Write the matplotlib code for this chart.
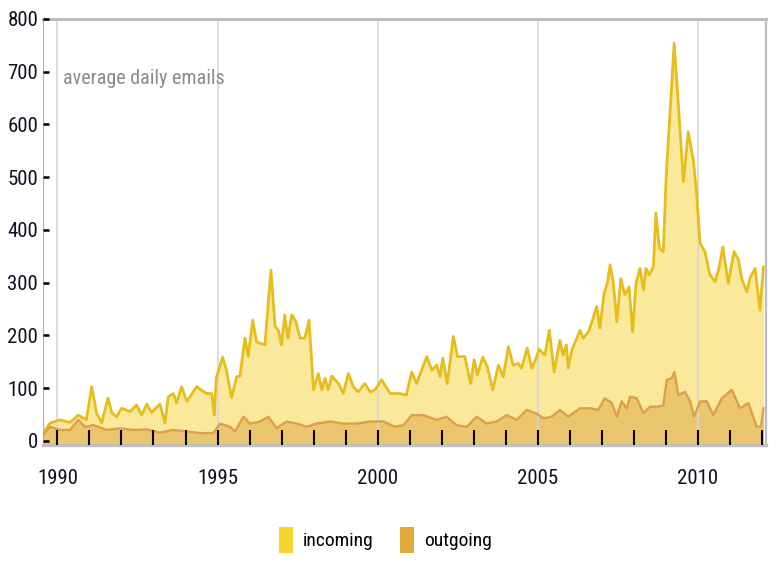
import matplotlib
matplotlib.use("Agg")
import matplotlib.pyplot as plt
import matplotlib.font_manager as fm
from matplotlib.patches import Patch

# -----------------------
# данные
# -----------------------
in_years = [1989.51, 1989.77, 1990.08, 1990.39, 1990.65, 1990.90, 1991.07, 1991.22, 1991.38, 1991.58,
            1991.70, 1991.85, 1992.00, 1992.27, 1992.47, 1992.63, 1992.79, 1992.94, 1993.20, 1993.36,
            1993.46, 1993.62, 1993.72, 1993.88, 1994.04, 1994.35, 1994.66, 1994.82, 1994.90, 1994.96,
            1995.16, 1995.28, 1995.44, 1995.60, 1995.70, 1995.86, 1995.96, 1996.10, 1996.22, 1996.48,
            1996.67, 1996.80, 1996.90, 1997.00, 1997.10, 1997.20, 1997.32, 1997.45, 1997.58, 1997.73,
            1997.86, 1998.00, 1998.15, 1998.26, 1998.36, 1998.46, 1998.57, 1998.78, 1998.93, 1999.09,
            1999.24, 1999.40, 1999.60, 1999.77, 1999.92, 2000.13, 2000.40, 2000.70, 2000.90, 2001.07,
            2001.22, 2001.54, 2001.70, 2001.85, 2001.95, 2002.04, 2002.18, 2002.37, 2002.50, 2002.73,
            2002.91, 2003.02, 2003.12, 2003.29, 2003.43, 2003.60, 2003.78, 2003.93, 2004.09, 2004.24,
            2004.40, 2004.50, 2004.68, 2004.82, 2004.94, 2005.05, 2005.23, 2005.37, 2005.52, 2005.70,
            2005.80, 2005.90, 2005.96, 2006.07, 2006.33, 2006.43, 2006.59, 2006.74, 2006.85, 2006.95,
            2007.08, 2007.18, 2007.27, 2007.37, 2007.48, 2007.60, 2007.73, 2007.86, 2007.97, 2008.08,
            2008.20, 2008.31, 2008.39, 2008.49, 2008.62, 2008.70, 2008.81, 2008.93, 2009.02, 2009.14,
            2009.27, 2009.40, 2009.56, 2009.71, 2009.87, 2009.97, 2010.08, 2010.23, 2010.39, 2010.55,
            2010.68, 2010.79, 2010.96, 2011.14, 2011.28, 2011.38, 2011.54, 2011.65, 2011.80, 2011.95,
            2012.06]
incoming = [11, 34, 40, 35, 49, 40, 103, 53, 34, 81,
            53, 46, 62, 56, 68, 49, 70, 54, 70, 34,
            84, 90, 72, 103, 75, 103, 90, 90, 49, 119,
            159, 134, 82, 122, 123, 195, 160, 229, 188, 182,
            324, 217, 210, 182, 239, 195, 239, 226, 195, 195,
            229, 97, 128, 97, 119, 97, 123, 109, 90, 128,
            103, 93, 109, 93, 97, 116, 90, 90, 87, 131,
            109, 160, 134, 144, 122, 157, 109, 198, 160, 160,
            109, 154, 125, 159, 141, 97, 144, 122, 179, 144,
            147, 138, 176, 138, 154, 174, 163, 210, 131, 191,
            163, 182, 138, 172, 210, 195, 207, 233, 255, 214,
            280, 299, 334, 299, 226, 308, 277, 292, 207, 299,
            327, 286, 327, 315, 330, 432, 365, 359, 501, 621,
            754, 640, 492, 586, 533, 470, 375, 359, 315, 302,
            330, 368, 299, 359, 343, 308, 283, 311, 327, 248,
            330]

out_years = [1989.51, 1989.77, 1990.08, 1990.39, 1990.65, 1990.86, 1991.12, 1991.54, 1991.95, 1992.37,
             1992.79, 1993.20, 1993.62, 1994.04, 1994.45, 1994.87, 1995.08, 1995.39, 1995.55, 1995.81,
             1996.02, 1996.33, 1996.59, 1996.85, 1997.16, 1997.47, 1997.79, 1998.10, 1998.52, 1998.93,
             1999.35, 1999.77, 2000.18, 2000.55, 2000.81, 2001.07, 2001.43, 2001.85, 2002.16, 2002.47,
             2002.79, 2003.10, 2003.41, 2003.72, 2004.04, 2004.35, 2004.66, 2004.97, 2005.18, 2005.44,
             2005.70, 2005.96, 2006.33, 2006.64, 2006.90, 2007.10, 2007.32, 2007.48, 2007.63, 2007.79,
             2007.89, 2008.10, 2008.31, 2008.52, 2008.78, 2008.93, 2009.04, 2009.19, 2009.28, 2009.40,
             2009.61, 2009.77, 2009.89, 2010.08, 2010.29, 2010.49, 2010.76, 2011.07, 2011.33, 2011.59,
             2011.85, 2011.98, 2012.06]
outgoing = [8, 27, 21, 21, 40, 27, 30, 21, 24, 21,
            22, 16, 21, 18, 15, 15, 33, 27, 18, 46,
            33, 37, 46, 24, 37, 33, 27, 33, 37, 33,
            33, 37, 37, 27, 30, 49, 49, 40, 46, 30,
            27, 46, 33, 37, 49, 40, 59, 52, 43, 46,
            59, 46, 62, 62, 59, 81, 72, 46, 75, 62,
            84, 81, 53, 65, 65, 68, 116, 119, 131, 87,
            93, 75, 46, 75, 75, 49, 81, 97, 62, 72,
            27, 27, 62]

year_ticks = list(range(1990, 2013))
year_labels = [str(y) if y % 5 == 0 else "" for y in year_ticks]
y_ticks = list(range(0, 801, 100))


# --- ищем узкий шрифт (condensed / narrow), иначе DejaVu Sans ---
def find_narrow_font():
    prefer = ["Liberation Sans Narrow", "Roboto Condensed", "DejaVu Sans",
              "Noto Sans", "Open Sans", "Inter"]
    found = []
    for f in fm.fontManager.ttflist:
        narrow = (f.stretch not in ("normal", 500, "medium")) or \
                 ("Narrow" in f.name) or ("Condensed" in f.name)
        if not narrow or f.style != "normal":
            continue
        if f.weight not in (400, "normal", "regular", "book", "Regular"):
            continue
        rank = prefer.index(f.name) if f.name in prefer else len(prefer)
        found.append((rank, f.fname))
    if found:
        found.sort()
        return found[0][1]
    return None


narrow_path = find_narrow_font()
if narrow_path:
    def fp(size):
        return fm.FontProperties(fname=narrow_path, size=size)
    TICK, NOTE, LEG = 15, 14.5, 14
else:
    def fp(size):
        return fm.FontProperties(family="DejaVu Sans", size=size)
    TICK, NOTE, LEG = 11.5, 12, 12

fig = plt.figure(figsize=(7.8, 5.75), dpi=100)
ax = fig.add_axes([43/780, 130/575, 723/780, 426/575])

ymin = -7.6
ax.set_xlim(1989.547, 2012.14)
ax.set_ylim(ymin, 800)

# заливки и линии
ax.fill_between(in_years, ymin, incoming, color="#fbe99b", lw=0, zorder=1)
ax.fill_between(out_years, ymin, outgoing, color="#ecc66c", lw=0, zorder=2)
ax.plot(in_years, incoming, color="#e6bd1c", lw=2.0, zorder=3)
ax.plot(out_years, outgoing, color="#dc9f4a", lw=1.7, zorder=3)

# вертикальная сетка каждые 5 лет
for yr in year_ticks:
    if yr % 5 == 0:
        ax.axvline(yr, color="#d6d6d6", lw=1.2, zorder=2.5)

ax.set_xticks(year_ticks)
ax.set_xticklabels(year_labels)
ax.set_yticks(y_ticks)
ax.tick_params(axis="x", direction="in", length=10.5, width=1.5, color="black",
               pad=17, labelcolor="#111122")
ax.tick_params(axis="y", direction="in", length=4.3, width=1.8, color="black",
               pad=3.5, labelcolor="#111122")
for lab in ax.get_xticklabels() + ax.get_yticklabels():
    lab.set_fontproperties(fp(TICK))
ax.xaxis.set_zorder(5)
ax.yaxis.set_zorder(5)

ax.spines["top"].set_color("#bdbdbd")
ax.spines["top"].set_linewidth(2.2)
ax.spines["right"].set_color("#bdbdbd")
ax.spines["right"].set_linewidth(1.6)
ax.spines["left"].set_color("#b0b0b0")
ax.spines["left"].set_linewidth(0.8)
ax.spines["bottom"].set_color("#c0c0c0")
ax.spines["bottom"].set_linewidth(2.4)
for s in ax.spines.values():
    s.set_zorder(4)

ax.text(0.028, 0.861, "average daily emails", transform=ax.transAxes,
        ha="left", va="center", color="#8a8a8a", fontproperties=fp(NOTE))

handles = [Patch(facecolor="#f5d52f", edgecolor="none", label="incoming"),
           Patch(facecolor="#e0ab3b", edgecolor="none", label="outgoing")]
fig.legend(handles=handles, loc="center", bbox_to_anchor=(0.494, 0.061), ncol=2,
           frameon=False, prop=fp(LEG), handlelength=0.7, handleheight=1.65,
           handletextpad=0.5, columnspacing=1.4)

fig.savefig("out.png", dpi=100)
